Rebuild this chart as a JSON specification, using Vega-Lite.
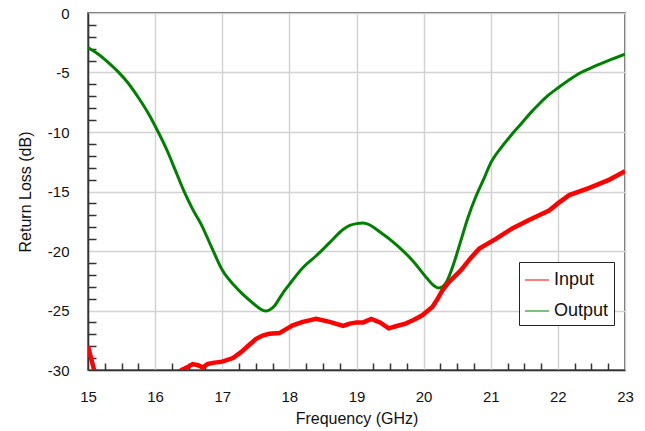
{
  "$schema": "https://vega.github.io/schema/vega-lite/v6.json",
  "width": 537,
  "height": 357,
  "autosize": "none",
  "padding": {"left": 88, "top": 13, "right": 20, "bottom": 61},
  "background": "white",
  "config": {
    "font": "Liberation Sans",
    "view": {"stroke": "#333", "strokeWidth": 1.5}
  },
  "datasets": {
    "input": [
      {"f": 15.0, "v": -28.0}, {"f": 15.1, "v": -30.2}, {"f": 15.2, "v": -31.5}, {"f": 15.5, "v": -33.0},
      {"f": 15.8, "v": -33.0}, {"f": 16.1, "v": -31.8}, {"f": 16.3, "v": -30.5}, {"f": 16.39, "v": -30.0},
      {"f": 16.5, "v": -29.7}, {"f": 16.56, "v": -29.5}, {"f": 16.64, "v": -29.6}, {"f": 16.71, "v": -29.8},
      {"f": 16.78, "v": -29.5}, {"f": 16.86, "v": -29.4}, {"f": 17.0, "v": -29.3}, {"f": 17.16, "v": -29.0},
      {"f": 17.28, "v": -28.5}, {"f": 17.4, "v": -27.9}, {"f": 17.5, "v": -27.4}, {"f": 17.6, "v": -27.1},
      {"f": 17.7, "v": -26.95}, {"f": 17.85, "v": -26.9}, {"f": 18.05, "v": -26.25}, {"f": 18.2, "v": -25.95},
      {"f": 18.4, "v": -25.7}, {"f": 18.6, "v": -25.95}, {"f": 18.8, "v": -26.3}, {"f": 18.9, "v": -26.1},
      {"f": 19.0, "v": -26.0}, {"f": 19.1, "v": -26.0}, {"f": 19.22, "v": -25.7}, {"f": 19.35, "v": -26.0},
      {"f": 19.48, "v": -26.5}, {"f": 19.6, "v": -26.3}, {"f": 19.73, "v": -26.1}, {"f": 19.85, "v": -25.8},
      {"f": 19.98, "v": -25.4}, {"f": 20.13, "v": -24.7}, {"f": 20.2, "v": -24.1}, {"f": 20.28, "v": -23.3},
      {"f": 20.38, "v": -22.6}, {"f": 20.55, "v": -21.65}, {"f": 20.7, "v": -20.6}, {"f": 20.83, "v": -19.8},
      {"f": 21.07, "v": -19.0}, {"f": 21.32, "v": -18.1}, {"f": 21.57, "v": -17.4}, {"f": 21.87, "v": -16.6},
      {"f": 22.0, "v": -16.0}, {"f": 22.17, "v": -15.3}, {"f": 22.47, "v": -14.7}, {"f": 22.77, "v": -14.0},
      {"f": 23.0, "v": -13.3}
    ],
    "output": [
      {"f": 15.0, "v": -2.9}, {"f": 15.15, "v": -3.45}, {"f": 15.3, "v": -4.15}, {"f": 15.45, "v": -4.95},
      {"f": 15.6, "v": -5.9}, {"f": 15.75, "v": -7.1}, {"f": 15.9, "v": -8.45}, {"f": 16.0, "v": -9.5},
      {"f": 16.19, "v": -11.7}, {"f": 16.3, "v": -13.2}, {"f": 16.44, "v": -15.1}, {"f": 16.56, "v": -16.5},
      {"f": 16.69, "v": -17.8}, {"f": 16.85, "v": -19.8}, {"f": 17.0, "v": -21.6}, {"f": 17.18, "v": -22.9},
      {"f": 17.3, "v": -23.6}, {"f": 17.43, "v": -24.25}, {"f": 17.55, "v": -24.8}, {"f": 17.65, "v": -25.05},
      {"f": 17.72, "v": -24.9}, {"f": 17.78, "v": -24.6}, {"f": 17.85, "v": -24.0}, {"f": 17.92, "v": -23.4},
      {"f": 18.0, "v": -22.8}, {"f": 18.2, "v": -21.4}, {"f": 18.4, "v": -20.4}, {"f": 18.6, "v": -19.3},
      {"f": 18.8, "v": -18.2}, {"f": 18.9, "v": -17.85}, {"f": 19.0, "v": -17.7}, {"f": 19.1, "v": -17.65},
      {"f": 19.15, "v": -17.7}, {"f": 19.35, "v": -18.4}, {"f": 19.6, "v": -19.5}, {"f": 19.85, "v": -20.9},
      {"f": 20.05, "v": -22.3}, {"f": 20.15, "v": -22.9}, {"f": 20.22, "v": -23.1}, {"f": 20.28, "v": -23.0},
      {"f": 20.34, "v": -22.6}, {"f": 20.44, "v": -21.2}, {"f": 20.54, "v": -19.4}, {"f": 20.66, "v": -17.2},
      {"f": 20.78, "v": -15.4}, {"f": 20.9, "v": -13.9}, {"f": 21.0, "v": -12.6}, {"f": 21.17, "v": -11.2},
      {"f": 21.3, "v": -10.3}, {"f": 21.47, "v": -9.2}, {"f": 21.6, "v": -8.35}, {"f": 21.72, "v": -7.65},
      {"f": 21.85, "v": -6.95}, {"f": 22.0, "v": -6.3}, {"f": 22.15, "v": -5.7}, {"f": 22.31, "v": -5.1},
      {"f": 22.56, "v": -4.45}, {"f": 22.75, "v": -4.0}, {"f": 23.0, "v": -3.45}
    ]
  },
  "encoding": {
    "x": {
      "field": "f", "type": "quantitative",
      "scale": {"domain": [15, 23], "nice": false, "zero": false},
      "axis": {
        "title": "Frequency (GHz)",
        "values": [15, 15.25, 15.5, 15.75, 16, 16.25, 16.5, 16.75, 17, 17.25, 17.5, 17.75, 18, 18.25, 18.5, 18.75, 19, 19.25, 19.5, 19.75, 20, 20.25, 20.5, 20.75, 21, 21.25, 21.5, 21.75, 22, 22.25, 22.5, 22.75, 23],
        "labelExpr": "datum.value % 1 === 0 ? toString(datum.value) : ''",
        "labelOverlap": false,
        "labelFlush": false,
        "labelFontSize": 15,
        "labelColor": "#111",
        "labelPadding": 26,
        "tickSize": -7,
        "tickColor": "#333",
        "tickWidth": 1.5,
        "tickOpacity": {"condition": {"test": "datum.value % 1 === 0", "value": 0}, "value": 1},
        "grid": true,
        "gridColor": "#d3d3d3",
        "gridWidth": 1.5,
        "gridOpacity": {"condition": {"test": "datum.value % 1 === 0", "value": 1}, "value": 0},
        "domainColor": "#333",
        "domainWidth": 1.5,
        "titleFontSize": 16,
        "titleFontWeight": "normal",
        "titleColor": "#111",
        "titlePadding": 6
      }
    },
    "y": {
      "field": "v", "type": "quantitative",
      "scale": {"domain": [-30, 0], "nice": false, "zero": false},
      "axis": {
        "title": "Return Loss (dB)",
        "values": [-30, -29, -28, -27, -26, -25, -24, -23, -22, -21, -20, -19, -18, -17, -16, -15, -14, -13, -12, -11, -10, -9, -8, -7, -6, -5, -4, -3, -2, -1, 0],
        "labelExpr": "datum.value % 5 === 0 ? toString(datum.value) : ''",
        "labelOverlap": false,
        "labelFlush": false,
        "labelFontSize": 15,
        "labelColor": "#111",
        "labelPadding": 27,
        "tickSize": -8,
        "tickColor": "#333",
        "tickWidth": 1.5,
        "tickOpacity": {"condition": {"test": "datum.value % 5 === 0", "value": 0}, "value": 1},
        "grid": true,
        "gridColor": "#d3d3d3",
        "gridWidth": 1.5,
        "gridOpacity": {"condition": {"test": "datum.value % 5 === 0", "value": 1}, "value": 0},
        "domainColor": "#333",
        "domainWidth": 1.5,
        "titleFontSize": 16,
        "titleFontWeight": "normal",
        "titleColor": "#111",
        "titlePadding": 14
      }
    },
    "color": {
      "field": "series", "type": "nominal",
      "scale": {"domain": ["Input", "Output"], "range": ["#ff0000", "#008000"]},
      "legend": {
        "title": null,
        "orient": "none",
        "legendX": 431,
        "legendY": 249,
        "symbolType": "stroke",
        "symbolSize": 576,
        "symbolStrokeWidth": 2,
        "symbolOpacity": 0.5,
        "labelFontSize": 18,
        "labelColor": "#111",
        "labelOffset": 4,
        "rowPadding": 9,
        "padding": 5,
        "strokeColor": "#222",
        "fillColor": "white"
      }
    }
  },
  "layer": [
    {
      "data": {"name": "output"},
      "transform": [{"calculate": "'Output'", "as": "series"}],
      "mark": {"type": "line", "strokeWidth": 3, "clip": true, "interpolate": "monotone"}
    },
    {
      "data": {"name": "input"},
      "transform": [{"calculate": "'Input'", "as": "series"}],
      "mark": {"type": "line", "strokeWidth": 4.5, "clip": true}
    }
  ]
}
